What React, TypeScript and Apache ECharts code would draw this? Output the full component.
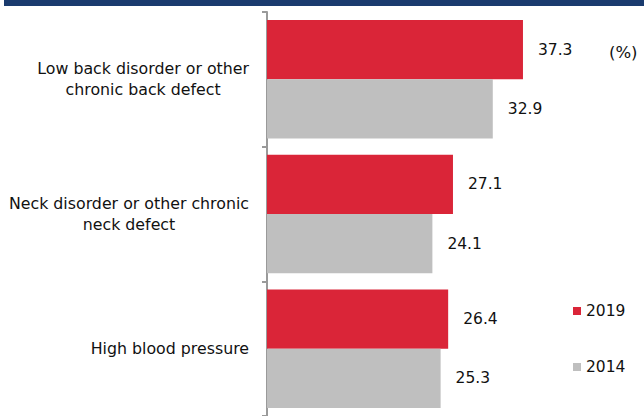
import React, { useEffect, useRef } from "react";
import * as echarts from "echarts";

const categories = [
  "Low back disorder or other\nchronic back defect",
  "Neck disorder or other chronic\nneck defect",
  "High blood pressure",
];
const seriesNames = ["2019", "2014"];
const values2019 = [37.3, 27.1, 26.4];
const values2014 = [32.9, 24.1, 25.3];
const unitLabel = "(%)";

const FONT = "DejaVu Sans";

export default function App() {
  const ref = useRef<HTMLDivElement>(null);
  useEffect(() => {
    if (!ref.current) return;
    const chart = echarts.init(ref.current, null, { renderer: "svg" });
    const labelStyle = {
      show: true,
      position: "right",
      distance: 15,
      color: "#111",
      fontFamily: FONT,
      fontSize: 15.5,
      formatter: (p: any) => p.value.toFixed(1),
    };
    chart.setOption({
      animation: false,
      backgroundColor: "#fff",
      textStyle: { fontFamily: FONT },
      grid: { left: 267, top: 12, width: 274.5, height: 411 },
      xAxis: {
        type: "value",
        min: 0,
        max: 40,
        show: false,
      },
      yAxis: {
        type: "category",
        inverse: true,
        data: categories,
        axisLine: { show: true, lineStyle: { color: "#9a9a9a", width: 2 } },
        axisTick: { show: true, length: 5, lineStyle: { color: "#9a9a9a", width: 2 } },
        axisLabel: {
          margin: 18,
          align: "right",
          lineHeight: 21,
          formatter: (v: string) =>
            v
              .split("\n")
              .map((l) => "{c|" + l + "}")
              .join("\n"),
          rich: {
            c: {
              align: "center",
              fontFamily: FONT,
              fontSize: 15.8,
              color: "#111",
              lineHeight: 21,
            },
          },
        },
        splitLine: { show: false },
      },
      legend: {
        orient: "vertical",
        left: 568,
        top: 298,
        itemWidth: 8,
        itemHeight: 8,
        itemGap: 40,
        icon: "rect",
        textStyle: { fontFamily: FONT, fontSize: 15.5, color: "#111" },
        data: seriesNames,
      },
      graphic: [
        { type: "rect", shape: { x: 4, y: 0, width: 640, height: 6 }, style: { fill: "#1a3b6e" } },
        {
          type: "text",
          left: 609,
          top: 44,
          style: { text: unitLabel, fontFamily: FONT, fontSize: 16.5, fill: "#111" },
        },
      ],
      series: [
        {
          name: seriesNames[0],
          type: "bar",
          data: values2019,
          barGap: "0%",
          barCategoryGap: "12%",
          itemStyle: { color: "#da2538" },
          label: labelStyle,
        },
        {
          name: seriesNames[1],
          type: "bar",
          data: values2014,
          barGap: "0%",
          barCategoryGap: "12%",
          itemStyle: { color: "#bfbfbf" },
          label: labelStyle,
        },
      ],
    });
    return () => chart.dispose();
  }, []);
  return <div ref={ref} style={{ width: 644, height: 416, position: "absolute", left: 0, top: 0 }} />;
}
